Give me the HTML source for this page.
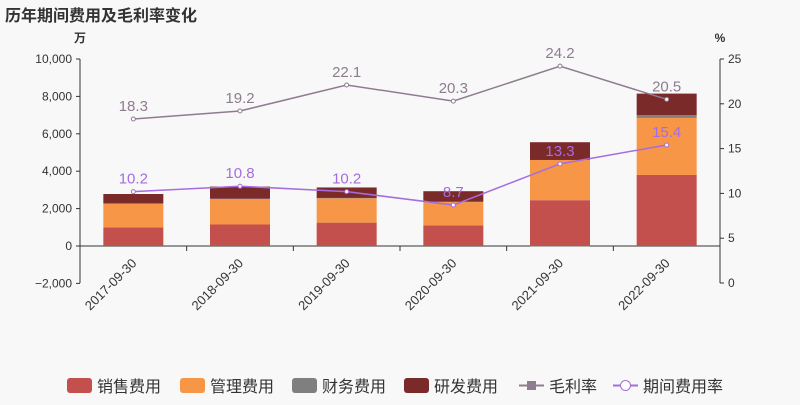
<!DOCTYPE html>
<html><head><meta charset="utf-8"><style>
body{margin:0;background:#f8f8f8;font-family:"Liberation Sans","Noto Sans CJK SC",sans-serif}
svg text{font-family:"Liberation Sans","Noto Sans CJK SC",sans-serif}
</style></head><body>
<svg id="c" width="800" height="400" xmlns="http://www.w3.org/2000/svg">
<rect width="800" height="400" fill="#f8f8f8"/>
<text x="5" y="21" font-size="16" font-weight="bold" fill="#333">历年期间费用及毛利率变化</text>
<text x="80" y="42" font-size="12" font-weight="bold" fill="#333" text-anchor="middle">万</text>
<text x="720" y="42" font-size="12" font-weight="bold" fill="#333" text-anchor="middle">%</text>
<g id="g"></g>
</svg>
<script>
const categories=["2017-09-30","2018-09-30","2019-09-30","2020-09-30","2021-09-30","2022-09-30"];
const sales=[1000,1150,1250,1100,2450,3800];
const mgmt=[1250,1350,1300,1250,2150,3050];
const finance=[30,30,20,20,-30,150];
const rnd=[500,650,560,560,950,1150];
const gross=[18.3,19.2,22.1,20.3,24.2,20.5];
const rate=[10.2,10.8,10.2,8.7,13.3,15.4];
const leftTicks=[-2000,0,2000,4000,6000,8000,10000];
const rightTicks=[0,5,10,15,20,25];
const NS="http://www.w3.org/2000/svg",g=document.getElementById('g');
const x0=80,x1=720,yTop=59,yBot=283;
const yL=v=>246-(v/2000)*37.4;
const yR=v=>yBot-(v/25)*(yBot-yTop);
const bw=(x1-x0)/categories.length;
const xc=i=>x0+bw*(i+0.5);
function el(t,a,p){const e=document.createElementNS(NS,t);for(const k in a)e.setAttribute(k,a[k]);(p||g).appendChild(e);return e;}
const fmt=v=>v<0?"−"+Math.abs(v).toLocaleString('en-US'):v.toLocaleString('en-US');
leftTicks.forEach(v=>{const t=el('text',{x:72,y:yL(v)+4,'font-size':12,fill:'#333','text-anchor':'end'});t.textContent=fmt(v);


el('line',{x1:x0-4,x2:x0,y1:yL(v),y2:yL(v),stroke:'#333'});});
rightTicks.forEach(v=>{const t=el('text',{x:728,y:yR(v)+4,'font-size':12,fill:'#333'});t.textContent=v;


el('line',{x1:x1,x2:x1+4,y1:yR(v),y2:yR(v),stroke:'#333'});});
el('line',{x1:x0,x2:x0,y1:yTop,y2:yBot,stroke:'#333'});
el('line',{x1:x1,x2:x1,y1:yTop,y2:yBot,stroke:'#333'});
el('line',{x1:x0,x2:x1,y1:yL(0),y2:yL(0),stroke:'#333'});
const colors=['#c4504d','#f79646','#7f7f7f','#7b2a2a'];
const series=[sales,mgmt,finance,rnd];
const names=['sales','management','finance','rnd'];
categories.forEach((c,i)=>{
  el('line',{x1:x0+bw*(i+1),x2:x0+bw*(i+1),y1:yL(0),y2:yL(0)+5,stroke:'#333'});
  const t=el('text',{x:xc(i)+4,y:yL(0)+18,'font-size':13,fill:'#333','text-anchor':'end',transform:`rotate(-45 ${xc(i)+4} ${yL(0)+18})`});t.textContent=c;
  
  
  let pos=0,neg=0;
  series.forEach((s,k)=>{const v=s[i];let a,b;if(v>=0){a=pos;b=pos+v;pos=b;}else{a=neg;b=neg+v;neg=b;}
    const r=el('rect',{x:xc(i)-30,width:60,y:Math.min(yL(a),yL(b)),height:Math.abs(yL(a)-yL(b)),fill:colors[k]});
    
    });
});
function line(d,col,name,labCol){
  el('polyline',{points:d.map((v,i)=>xc(i)+','+yR(v)).join(' '),fill:'none',stroke:col,'stroke-width':1.5});
  d.forEach((v,i)=>{const p=el('circle',{cx:xc(i),cy:yR(v),r:2,fill:'#fff',stroke:col});
    
    
    const t=el('text',{x:xc(i),y:yR(v)-8,'font-size':15,fill:labCol,'text-anchor':'middle'});t.textContent=v;
    
    });
}
line(gross,'#8e7c8f','gross-margin','#8e7c8f');
line(rate,'#a56de0','expense-rate','#a56de0');
const leg=[['销售费用','#c4504d','box',67],['管理费用','#f79646','box',180],['财务费用','#7f7f7f','box',292],['研发费用','#7b2a2a','box',404],['毛利率','#8e7c8f','line',519],['期间费用率','#a56de0','cline',613]];
leg.forEach(([n,c,t,x])=>{
  const gg=el('g',{});
  if(t==='box')el('rect',{x:x,y:378,width:25,height:15,rx:3,fill:c},gg);
  else{el('line',{x1:x,x2:x+25,y1:385.5,y2:385.5,stroke:c,'stroke-width':2},gg);
    if(t==='line')el('rect',{x:x+8,y:381,width:9,height:9,fill:c},gg);
    else el('circle',{cx:x+12.5,cy:385.5,r:5,fill:'#fff',stroke:c},gg);}
  const tx=el('text',{x:x+30,y:392,'font-size':16,fill:'#333'},gg);tx.textContent=n;
});
</script>
</body></html>
